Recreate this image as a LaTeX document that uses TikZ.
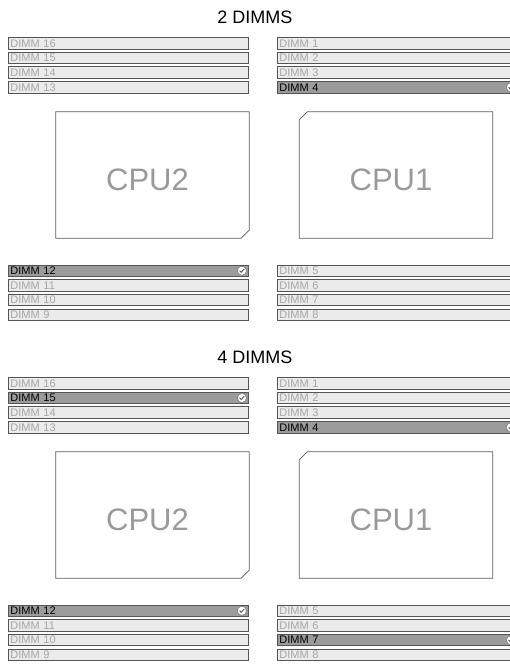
\documentclass[tikz,border=0pt]{standalone}
\usepackage{fontspec}
\setmainfont{Liberation Sans}
\definecolor{slotfill}{HTML}{EBEBEB}
\definecolor{slotsel}{HTML}{9B9B9B}
\definecolor{slotline}{HTML}{555555}
\definecolor{slottext}{HTML}{A6A6A6}
\definecolor{cpuline}{HTML}{5E5E5E}
\definecolor{cputext}{HTML}{9A9A9A}
\tikzset{
  dimm/.style={draw=slotline, fill=slotfill, text=slottext, line width=0.9pt,
    anchor=west, text width=236pt, align=left, inner xsep=2pt, inner ysep=0pt,
    minimum height=11.5pt, font=\fontsize{11}{11}\selectfont},
  slot/.style={},
  full/.style={fill=slotsel, text=black},
  cpu/.style={minimum width=193pt, minimum height=126pt, inner sep=0pt},
  cpuedge/.style={draw=cpuline, line width=0.8pt},
  cpulbl/.style={text=cputext, font=\fontsize{31}{31}\selectfont},
  heading/.style={font=\fontsize{18}{18}\selectfont},
  tick/.style={circle, fill=white, draw=slotline, line width=0.3pt, minimum size=9pt, inner sep=0pt},
  okmark/.pic={
    \node[tick] (-c) {};
    \draw[line width=0.9pt, draw=slotline] (-2.3,-0.2) -- (-0.7,1.6) -- (2.3,-1.8);
  }
}
\begin{document}
\begin{tikzpicture}[x=1pt,y=-1pt]
\useasboundingbox (0,0) rectangle (510,664);
\clip (0,0) rectangle (510,664);

% 2 DIMMS
\node[heading] (titlea) at (255,17) {2 DIMMS};
\foreach \n/\s [count=\i from 0] in {16/slot,15/slot,14/slot,13/slot}
  \node[dimm,\s] (dimma\n) at (8,43.25+14.7*\i) {DIMM \n};
\foreach \n/\s [count=\i from 0] in {1/slot,2/slot,3/slot,4/full}
  \node[dimm,\s] (dimma\n) at (277,43.25+14.7*\i) {DIMM \n};
\node[cpu] (cpua2) at (152.5,175) {};
\node[cpu] (cpua1) at (396,175) {};
\draw[cpuedge] (cpua2.north west) -- (cpua2.north east) -- ([yshift=8pt]cpua2.south east)
  -- ([xshift=-8pt]cpua2.south east) -- (cpua2.south west) -- cycle;
\draw[cpuedge] ([xshift=8pt]cpua1.north west) -- (cpua1.north east) -- (cpua1.south east)
  -- (cpua1.south west) -- ([yshift=-8pt]cpua1.north west) -- cycle;
\node[cpulbl] (cpua2lbl) at ([shift={(-5,5)}]cpua2.center) {CPU2};
\node[cpulbl] (cpua1lbl) at ([shift={(-5,5)}]cpua1.center) {CPU1};
\foreach \n/\s [count=\i from 0] in {12/full,11/slot,10/slot,9/slot}
  \node[dimm,\s] (dimma\n) at (8,270.75+14.7*\i) {DIMM \n};
\foreach \n/\s [count=\i from 0] in {5/slot,6/slot,7/slot,8/slot}
  \node[dimm,\s] (dimma\n) at (277,270.75+14.7*\i) {DIMM \n};
\pic (cka4) at ([xshift=-7pt]dimma4.east) {okmark};
\pic (cka12) at ([xshift=-7pt]dimma12.east) {okmark};

% 4 DIMMS
\begin{scope}[yshift=-340pt]
\node[heading] (titleb) at (255,17) {4 DIMMS};
\foreach \n/\s [count=\i from 0] in {16/slot,15/full,14/slot,13/slot}
  \node[dimm,\s] (dimmb\n) at (8,43.25+14.7*\i) {DIMM \n};
\foreach \n/\s [count=\i from 0] in {1/slot,2/slot,3/slot,4/full}
  \node[dimm,\s] (dimmb\n) at (277,43.25+14.7*\i) {DIMM \n};
\node[cpu] (cpub2) at (152.5,175) {};
\node[cpu] (cpub1) at (396,175) {};
\draw[cpuedge] (cpub2.north west) -- (cpub2.north east) -- ([yshift=8pt]cpub2.south east)
  -- ([xshift=-8pt]cpub2.south east) -- (cpub2.south west) -- cycle;
\draw[cpuedge] ([xshift=8pt]cpub1.north west) -- (cpub1.north east) -- (cpub1.south east)
  -- (cpub1.south west) -- ([yshift=-8pt]cpub1.north west) -- cycle;
\node[cpulbl] (cpub2lbl) at ([shift={(-5,5)}]cpub2.center) {CPU2};
\node[cpulbl] (cpub1lbl) at ([shift={(-5,5)}]cpub1.center) {CPU1};
\foreach \n/\s [count=\i from 0] in {12/full,11/slot,10/slot,9/slot}
  \node[dimm,\s] (dimmb\n) at (8,270.75+14.7*\i) {DIMM \n};
\foreach \n/\s [count=\i from 0] in {5/slot,6/slot,7/full,8/slot}
  \node[dimm,\s] (dimmb\n) at (277,270.75+14.7*\i) {DIMM \n};
\pic (ckb15) at ([xshift=-7pt]dimmb15.east) {okmark};
\pic (ckb4) at ([xshift=-7pt]dimmb4.east) {okmark};
\pic (ckb12) at ([xshift=-7pt]dimmb12.east) {okmark};
\pic (ckb7) at ([xshift=-7pt]dimmb7.east) {okmark};
\end{scope}
\end{tikzpicture}
\end{document}
